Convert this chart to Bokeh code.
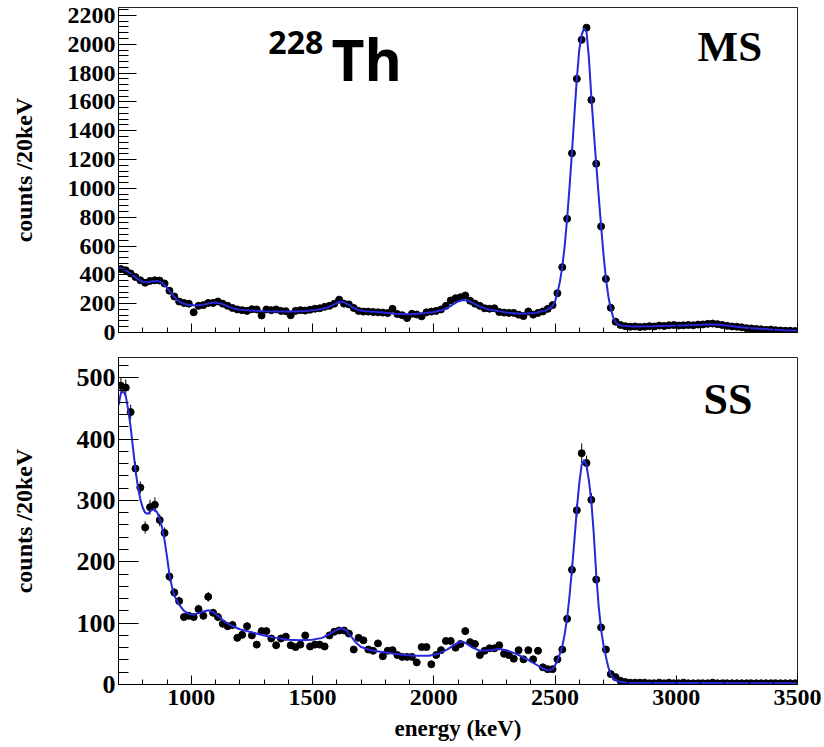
import numpy as np
from bokeh.plotting import figure
from bokeh.layouts import column
from bokeh.models import Range1d, SingleIntervalTicker, Label, ColumnDataSource
from bokeh.embed import file_html
from bokeh.resources import INLINE

# ---------------- data ----------------
# 20 keV bins, centres 710 ... 3490 keV
bin_first, bin_last, bin_width = 710, 3490, 20

ms_counts = [
    440, 432, 410, 385, 362, 345, 358, 362, 360, 340,
    290, 250, 215, 205, 200, 140, 185, 190, 205, 205,
    215, 200, 185, 170, 160, 155, 150, 162, 160, 118,
    160, 155, 160, 150, 148, 120, 150, 155, 152, 158,
    165, 168, 178, 185, 200, 228, 200, 195, 170, 150,
    145, 145, 142, 140, 138, 135, 164, 128, 120, 100,
    130, 125, 112, 140, 145, 150, 160, 185, 222, 238,
    245, 257, 220, 200, 185, 168, 165, 168, 142, 138,
    136, 136, 124, 114, 146, 124, 136, 146, 164, 190,
    273, 453, 789, 1244, 1760, 2031, 2115, 1614, 1171, 736,
    372, 171, 75, 52, 44, 40, 42, 38, 40, 44,
    42, 48, 45, 50, 52, 48, 50, 52, 50, 55,
    56, 60, 62, 58, 52, 46, 42, 40, 36, 30,
    28, 25, 22, 18, 20, 16, 14, 12, 12, 10,
]

ss_counts = [
    487, 484, 444, 352, 321, 256, 289, 293, 268, 247,
    176, 150, 136, 110, 112, 110, 123, 112, 143, 117,
    110, 99, 95, 97, 76, 81, 95, 80, 65, 87,
    87, 75, 64, 75, 78, 64, 61, 65, 80, 62,
    65, 65, 62, 80, 86, 88, 88, 83, 57, 76,
    72, 57, 55, 67, 46, 55, 56, 48, 45, 45,
    45, 36, 61, 61, 33, 48, 56, 71, 71, 60,
    66, 87, 69, 66, 48, 55, 59, 59, 64, 50,
    48, 42, 56, 41, 56, 41, 55, 28, 25, 25,
    41, 57, 107, 187, 284, 377, 361, 301, 171, 93,
    57, 17, 12, 6, 4, 3, 3, 3, 3, 2,
    2, 3, 2, 3, 2, 2, 3, 2, 2, 2,
    2, 2, 3, 2, 2, 2, 2, 2, 2, 2,
    2, 2, 2, 2, 2, 2, 2, 2, 2, 2,
]

ss_errors = [
    13, 13, 12, 11, 10, 10, 12, 12, 10, 9,
    8, 7, 7, 6, 6, 6, 7, 6, 8, 6,
    6, 6, 6, 6, 5, 5, 6, 5, 5, 5,
    5, 5, 5, 5, 5, 5, 5, 5, 5, 5,
    5, 5, 5, 5, 5, 5, 5, 5, 5, 5,
    5, 5, 4, 5, 4, 4, 4, 4, 4, 4,
    4, 4, 4, 4, 4, 4, 4, 5, 5, 4,
    4, 6, 5, 4, 4, 4, 4, 4, 4, 4,
    4, 4, 4, 4, 4, 4, 4, 3, 3, 3,
    4, 5, 6, 9, 11, 16, 12, 11, 8, 6,
    5, 3, 3, 2, 2, 1, 1, 1, 1, 1,
    1, 1, 1, 1, 1, 1, 1, 1, 1, 1,
    1, 1, 1, 1, 1, 1, 1, 1, 1, 1,
    1, 1, 1, 1, 1, 1, 1, 1, 1, 1,
]

# fitted model curves (energy, counts)
ms_fit_energy = [700, 720, 740, 760, 780, 800, 820, 840, 860, 880, 900, 920, 940, 960, 980,
                 1000, 1020, 1040, 1060, 1080, 1100, 1120, 1140, 1160, 1180, 1200, 1240,
                 1300, 1360, 1420, 1480, 1520, 1560, 1590, 1610, 1630, 1650, 1670, 1690,
                 1720, 1780, 1840, 1900, 1960, 2000, 2040, 2070, 2100, 2120, 2140, 2160,
                 2190, 2220, 2260, 2300, 2360, 2420, 2460, 2480, 2490, 2500, 2510, 2520,
                 2530, 2540, 2550, 2560, 2570, 2580, 2590, 2600, 2610, 2620, 2630, 2640,
                 2650, 2660, 2670, 2680, 2690, 2700, 2710, 2720, 2730, 2740, 2750, 2760,
                 2780, 2820, 2900, 3000, 3080, 3140, 3180, 3240, 3300, 3380, 3440, 3500]
ms_fit_counts = [448, 440, 420, 398, 372, 350, 348, 356, 358, 345, 312, 268, 228, 205, 195,
                 190, 188, 190, 197, 205, 208, 202, 190, 176, 165, 158, 152,
                 148, 146, 145, 150, 158, 172, 195, 215, 210, 192, 170, 155,
                 147, 140, 130, 126, 134, 142, 158, 185, 215, 226, 222, 205,
                 180, 162, 150, 138, 130, 136, 152, 170, 185, 215, 275, 350,
                 455, 600, 790, 1010, 1250, 1510, 1760, 1960, 2065, 2110, 2085, 1900,
                 1630, 1390, 1170, 950, 740, 540, 375, 250, 165, 105, 72, 56,
                 46, 42, 43, 48, 52, 58, 54, 42, 32, 22, 16, 12]

ss_fit_energy = [700, 710, 720, 730, 740, 750, 760, 770, 780, 790, 800, 810, 820, 830, 840,
                 850, 860, 870, 880, 890, 900, 910, 920, 930, 950, 970, 990, 1010, 1030,
                 1050, 1070, 1090, 1110, 1130, 1160, 1200, 1250, 1300, 1350, 1400, 1450,
                 1500, 1540, 1570, 1600, 1620, 1640, 1660, 1680, 1700, 1740, 1800, 1860,
                 1920, 1980, 2020, 2060, 2090, 2110, 2130, 2160, 2190, 2230, 2270, 2300,
                 2340, 2380, 2420, 2450, 2470, 2490, 2510, 2520, 2530, 2540, 2550, 2560,
                 2570, 2580, 2590, 2600, 2610, 2620, 2630, 2640, 2650, 2660, 2670, 2680,
                 2690, 2700, 2710, 2720, 2730, 2740, 2760, 2800, 3500]
ss_fit_counts = [455, 475, 478, 470, 448, 420, 385, 350, 322, 302, 288, 280, 278, 282, 285,
                 285, 280, 270, 255, 235, 208, 180, 160, 145, 130, 120, 115, 114, 116,
                 119, 121, 118, 112, 105, 97, 90, 85, 80, 76, 73, 72,
                 73, 76, 82, 89, 92, 88, 78, 68, 61, 56, 52, 49,
                 47, 47, 50, 58, 66, 70, 68, 60, 55, 56, 58, 56,
                 50, 42, 33, 26, 23, 25, 38, 50, 62, 82, 108, 145,
                 188, 235, 285, 328, 358, 366, 357, 332, 298, 245, 180, 128,
                 90, 64, 45, 28, 17, 10, 5, 3, 2]

energy = np.arange(bin_first, bin_last + 1, bin_width)

# ---------------- styling helpers ----------------
SERIF = "Liberation Serif"
FIT_COLOR = "#2626da"
x_range = Range1d(700, 3500)


def style(p, y_interval, y_major_len, y_font, y_label_standoff, x_labels=True):
    p.xgrid.visible = False
    p.ygrid.visible = False
    p.outline_line_color = "#222222"
    p.outline_line_width = 1
    p.xaxis.ticker = SingleIntervalTicker(interval=500, num_minor_ticks=5)
    p.yaxis.ticker = SingleIntervalTicker(interval=y_interval, num_minor_ticks=5)
    for ax in (p.xaxis[0], p.yaxis[0]):
        ax.axis_line_color = "black"
        ax.major_tick_line_color = "black"
        ax.minor_tick_line_color = "black"
        ax.major_tick_out = 0
        ax.minor_tick_out = 0
        ax.major_label_text_font = SERIF
        ax.major_label_text_font_style = "bold"
        ax.major_label_text_color = "black"
        ax.axis_label_text_font = SERIF
        ax.axis_label_text_font_style = "bold"
        ax.axis_label_text_color = "black"
    p.xaxis.major_tick_in = 9
    p.xaxis.minor_tick_in = 5
    p.yaxis.major_tick_in = y_major_len
    p.yaxis.minor_tick_in = 10
    p.yaxis.major_label_text_font_size = y_font
    p.yaxis.major_label_standoff = 3
    p.yaxis.axis_label = "counts /20keV"
    p.yaxis.axis_label_text_font_size = "24px"
    p.yaxis.axis_label_standoff = y_label_standoff
    if x_labels:
        p.xaxis.major_label_text_font_size = "24px"
        p.xaxis.major_label_standoff = 5
    else:
        p.xaxis.major_label_text_font_size = "1px"
        p.xaxis.major_label_text_color = None
        p.xaxis.major_label_standoff = 0


# ---------------- top panel: MS ----------------
p1 = figure(x_range=x_range, y_range=Range1d(0, 2255), output_backend="svg",
            toolbar_location=None, frame_width=679, frame_height=325,
            min_border_left=118, min_border_right=25, min_border_top=7, min_border_bottom=12)
style(p1, 200, 18, "24px", 28, x_labels=False)

ms_src = ColumnDataSource(dict(e=energy, c=ms_counts))
p1.scatter("e", "c", source=ms_src, size=7, color="black")
p1.line(ms_fit_energy, ms_fit_counts, line_color=FIT_COLOR, line_width=2)

p1.add_layout(Label(x=3088, y=1985, text="MS", text_font=SERIF, text_font_style="bold",
                    text_font_size="43px", text_color="black", text_baseline="alphabetic"))
p1.add_layout(Label(x=1318, y=2010, text="228", text_font="Open Sans", text_font_style="bold",
                    text_font_size="32px", text_color="black", text_baseline="alphabetic"))
p1.add_layout(Label(x=1578, y=1900, text="Th", text_font="Open Sans", text_font_style="bold",
                    text_font_size="57px", text_color="black", text_baseline="alphabetic"))

# ---------------- bottom panel: SS ----------------
p2 = figure(x_range=x_range, y_range=Range1d(0, 533), output_backend="svg",
            toolbar_location=None, frame_width=679, frame_height=327,
            min_border_left=118, min_border_right=25, min_border_top=13, min_border_bottom=0)
style(p2, 100, 20, "26px", 37, x_labels=True)
p2.xaxis.axis_label = "energy (keV)"
p2.xaxis.axis_label_text_font_size = "23px"
p2.xaxis.axis_label_standoff = 8

ss_src = ColumnDataSource(dict(e=energy, c=ss_counts,
                               lo=np.array(ss_counts) - np.array(ss_errors),
                               hi=np.array(ss_counts) + np.array(ss_errors)))
p2.segment(x0="e", y0="lo", x1="e", y1="hi", source=ss_src, line_color="black", line_width=1)
p2.scatter("e", "c", source=ss_src, size=7, color="black")
p2.line(ss_fit_energy, ss_fit_counts, line_color=FIT_COLOR, line_width=2)

p2.add_layout(Label(x=3112, y=464, text="SS", text_font=SERIF, text_font_style="bold",
                    text_font_size="44px", text_color="black", text_baseline="alphabetic"))

layout = column(p1, p2, spacing=0)
open("out.html", "w").write(file_html(layout, INLINE))
